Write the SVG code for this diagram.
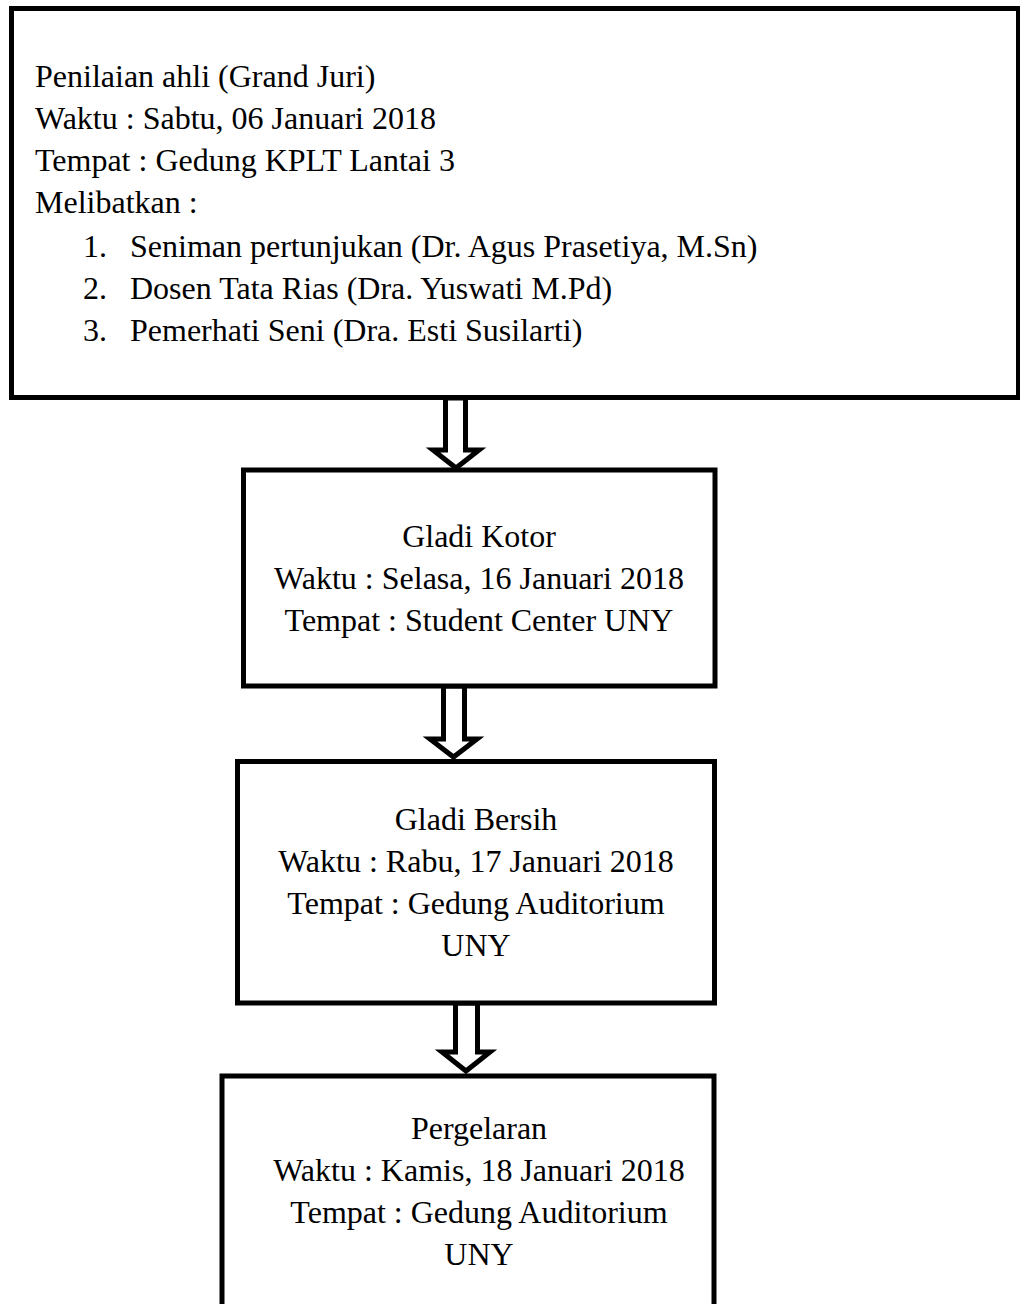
<svg xmlns="http://www.w3.org/2000/svg" width="1020" height="1304" viewBox="0 0 1020 1304">
<style>
.box{fill:#fff;stroke:#000;stroke-width:5}
.arr{fill:#fff;stroke:#000;stroke-width:5;stroke-linejoin:miter}
text{font-family:"Liberation Serif","Times New Roman",serif;font-size:32px;fill:#000}
.c{text-anchor:middle}
</style>
<rect width="1020" height="1304" fill="#fff"/>
<g id="connectors">
<polygon class="arr" points="445.5,398 465.5,398 465.5,450 479,450 456,468 433,450 445.5,450"/>
<polygon class="arr" points="443.5,686 464.5,686 464.5,739 477,739 453.5,757 430,739 443.5,739"/>
<polygon class="arr" points="455.5,1003 477.5,1003 477.5,1052 490,1052 466,1071 442,1052 455.5,1052"/>
</g>
<g id="node1">
<rect class="box" x="11.5" y="8.5" width="1007" height="389"/>
<text x="35" y="87">Penilaian ahli (Grand Juri)</text>
<text x="35" y="129">Waktu : Sabtu, 06 Januari 2018</text>
<text x="35" y="171">Tempat : Gedung KPLT Lantai 3</text>
<text x="35" y="213">Melibatkan :</text>
<text x="83" y="257">1.</text><text x="130" y="257">Seniman pertunjukan (Dr. Agus Prasetiya, M.Sn)</text>
<text x="83" y="299">2.</text><text x="130" y="299">Dosen Tata Rias (Dra. Yuswati M.Pd)</text>
<text x="83" y="341">3.</text><text x="130" y="341">Pemerhati Seni (Dra. Esti Susilarti)</text>
</g>
<g id="node2">
<rect class="box" x="243.5" y="470" width="471.5" height="216"/>
<text class="c" x="479" y="547">Gladi Kotor</text>
<text class="c" x="479" y="589">Waktu : Selasa, 16 Januari 2018</text>
<text class="c" x="479" y="631">Tempat : Student Center UNY</text>
</g>
<g id="node3">
<rect class="box" x="237.5" y="761.5" width="477" height="241.5"/>
<text class="c" x="476" y="830">Gladi Bersih</text>
<text class="c" x="476" y="872">Waktu : Rabu, 17 Januari 2018</text>
<text class="c" x="476" y="914">Tempat : Gedung Auditorium</text>
<text class="c" x="476" y="956">UNY</text>
</g>
<g id="node4">
<rect class="box" x="222" y="1076" width="492" height="260"/>
<text class="c" x="479" y="1139">Pergelaran</text>
<text class="c" x="479" y="1181">Waktu : Kamis, 18 Januari 2018</text>
<text class="c" x="479" y="1223">Tempat : Gedung Auditorium</text>
<text class="c" x="479" y="1265">UNY</text>
</g>
</svg>
